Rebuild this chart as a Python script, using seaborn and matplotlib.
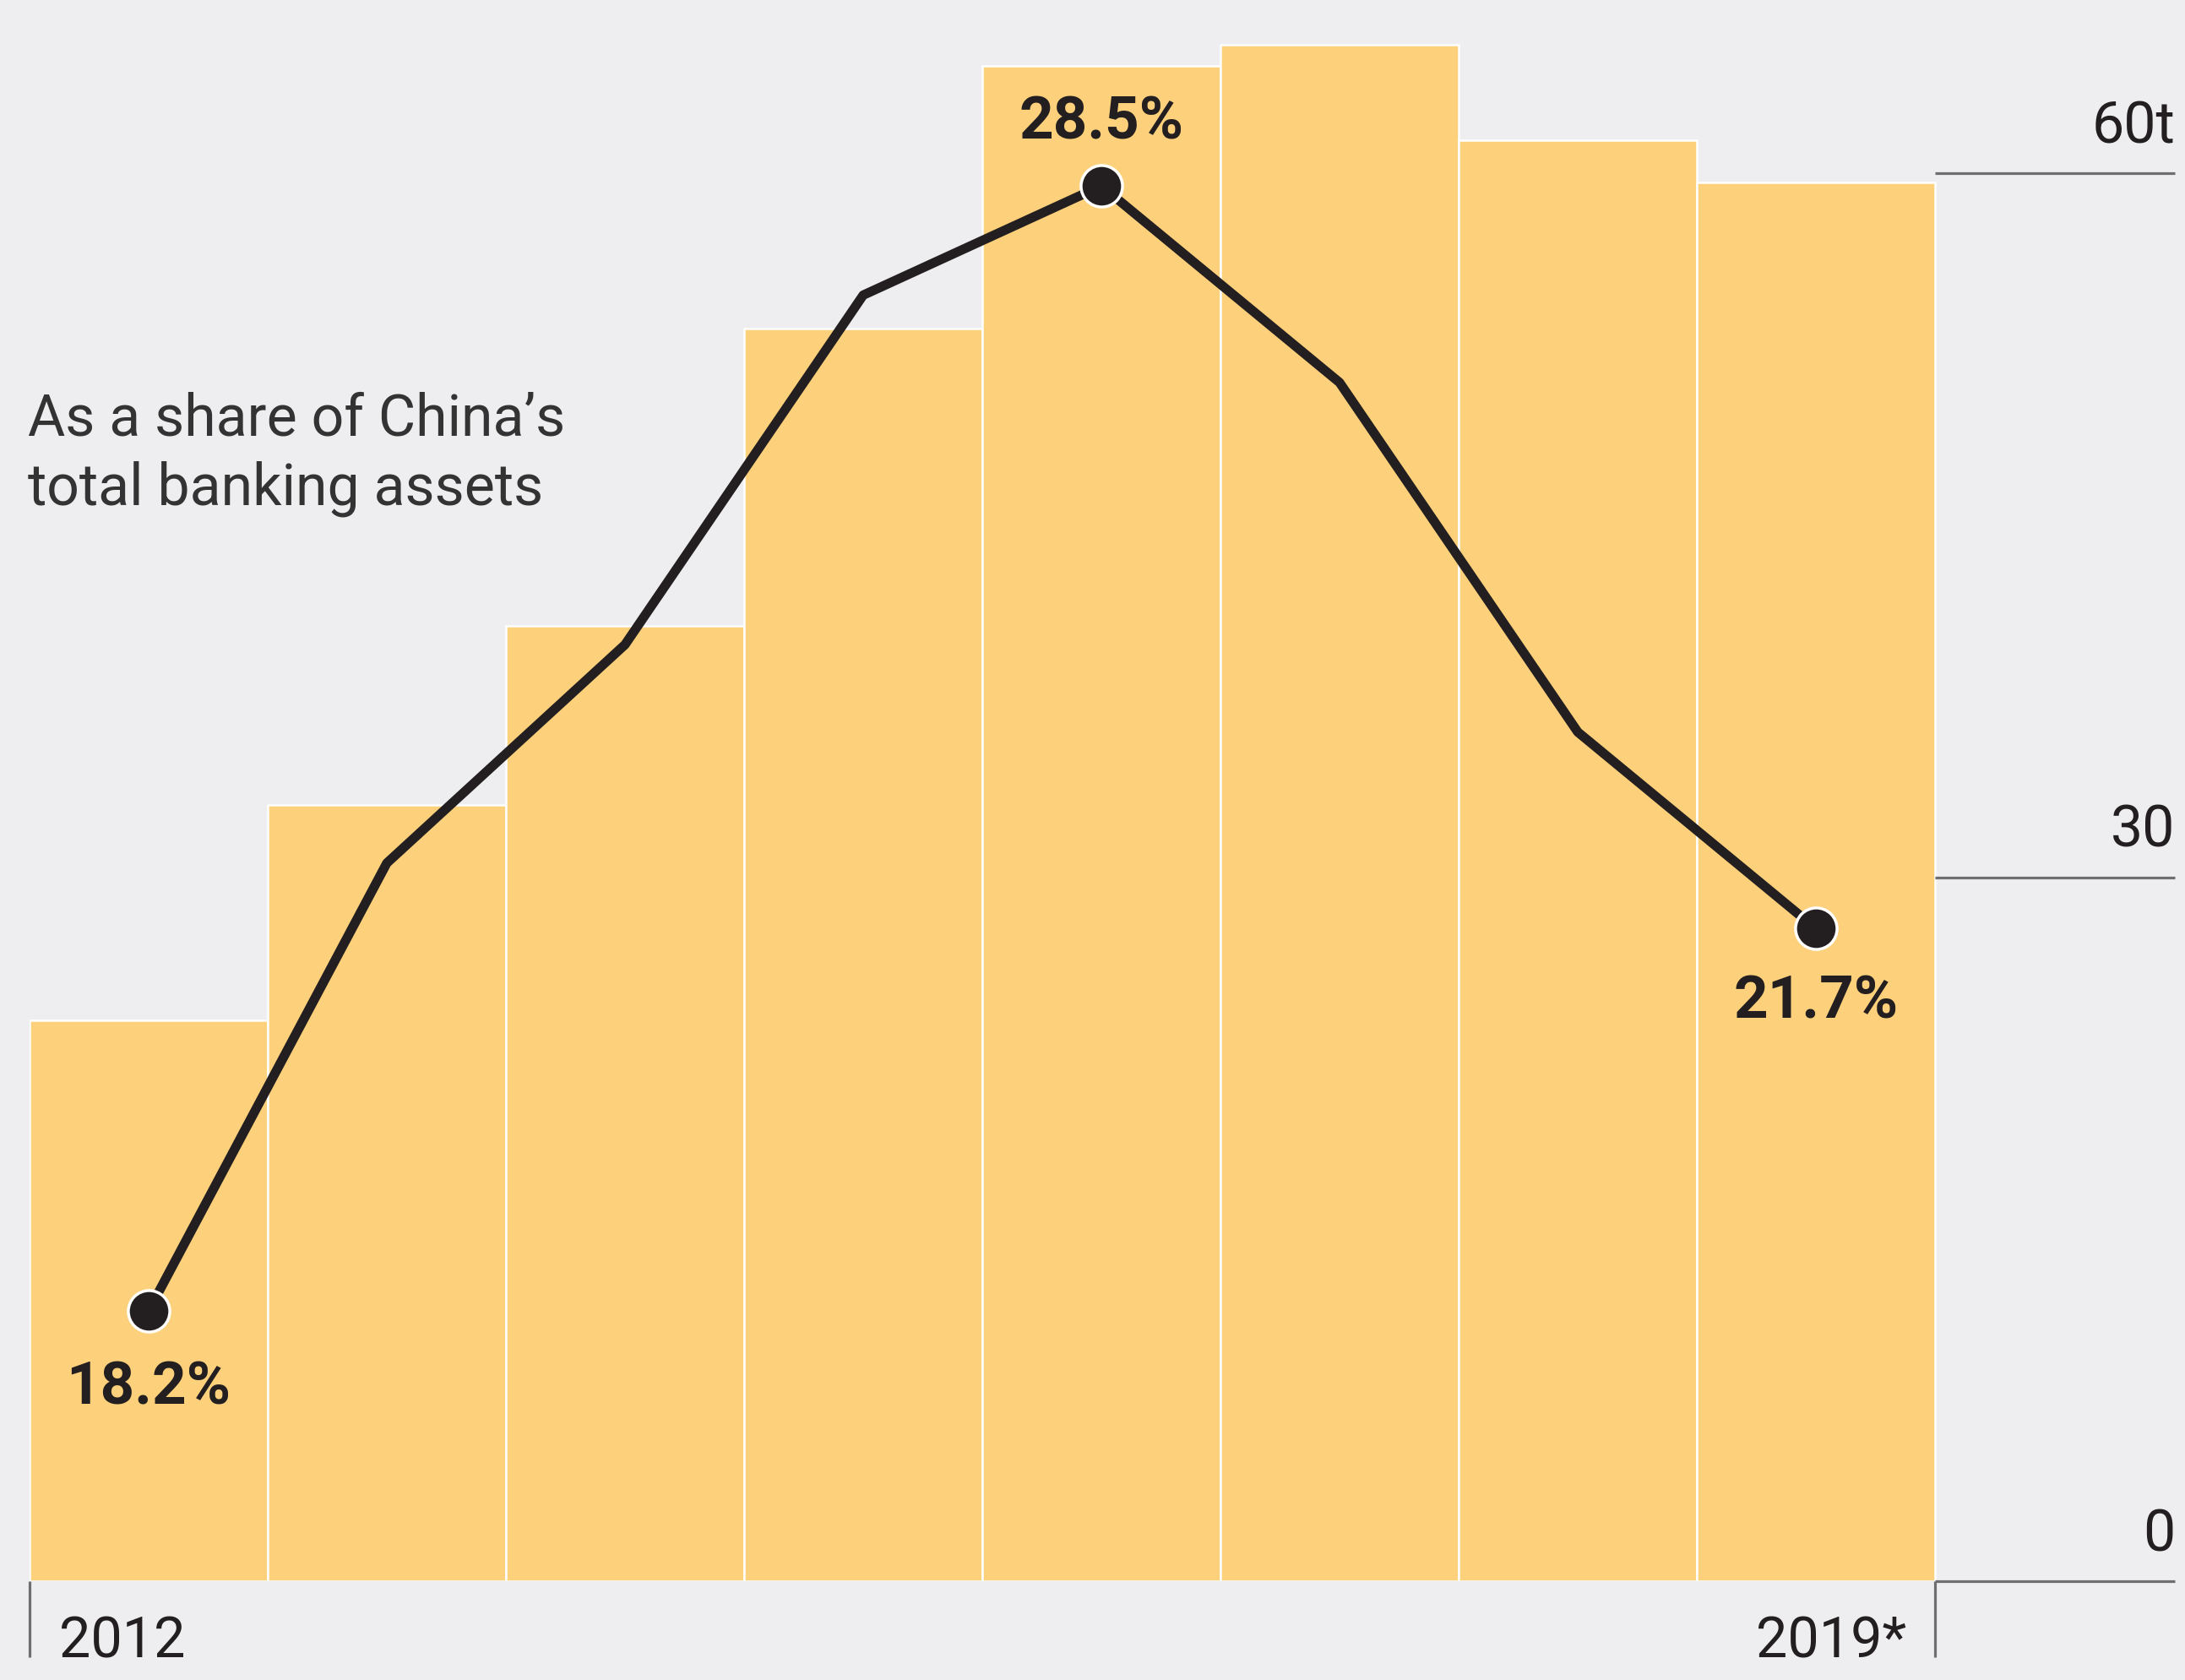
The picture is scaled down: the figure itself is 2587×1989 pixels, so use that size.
import numpy as np
import pandas as pd
import matplotlib
matplotlib.use("Agg")
import matplotlib.pyplot as plt
import seaborn as sns

# Shadow banking assets (trillion yuan) and share of total banking assets (%)
years = ["2012", "2013", "2014", "2015", "2016", "2017", "2018", "2019"]
assets_tn = [23.9, 33.1, 40.7, 53.4, 64.6, 65.5, 61.4, 59.6]
share_pct = [18.2, 22.3, 24.3, 27.5, 28.5, 26.7, 23.5, 21.7]
labelled_idx = [0, 4, 7]
y_ticks = [0, 30, 60]
y_tick_labels = ["0", "30", "60t"]
x_labels = {0: "2012", 7: "2019*"}
note_lines = ["As a share of China\u2019s", "total banking assets"]

BG = "#EEEEF0"
BAR = "#FDD17B"
INK = "#231F20"
RULE = "#6D6E71"

sns.set_theme(style="white")
plt.rcParams["font.family"] = ["Roboto", "DejaVu Sans"]

W, H = 2587, 1990
fig = plt.figure(figsize=(W / 100, H / 100), dpi=100, facecolor=BG)
ax = fig.add_axes([35 / W, (H - 1873) / H, (2575 - 35) / W, 1873 / H])
ax.set_facecolor("none")

df = pd.DataFrame({"year": years, "assets": assets_tn, "share": share_pct})

sns.barplot(data=df, x="year", y="assets", color=BAR, saturation=1,
            width=1.0, edgecolor="white", linewidth=1.8, ax=ax, zorder=1)
ax.set_xlim(-0.5, 8.507)
ax.set_ylim(0, 67.43)
ax.set_xlabel("")
ax.set_ylabel("")
ax.set_xticks([])
ax.set_yticks([])
for s in ax.spines.values():
    s.set_visible(False)

# right-hand scale rules and labels
n = len(years)
ax.hlines(y_ticks, n - 0.5, 8.507, color=RULE, lw=2.3, clip_on=False, zorder=2)
for v, lab in zip(y_ticks, y_tick_labels):
    ax.annotate(lab, xy=(8.507, v), xytext=(0, 26.6), textcoords="offset points",
                ha="right", va="baseline", fontsize=49, color=INK,
                annotation_clip=False)

# baseline end ticks and year labels
ax.vlines([-0.5, n - 0.5], 0, -3.25, color=RULE, lw=2.3, clip_on=False)
ax.annotate(x_labels[0], xy=(-0.5, 0), xytext=(25.5, -64.8),
            textcoords="offset points", ha="left", va="baseline",
            fontsize=48, color=INK, annotation_clip=False)
ax.annotate(x_labels[7], xy=(n - 0.5, 0), xytext=(-24.5, -64.8),
            textcoords="offset points", ha="right", va="baseline",
            fontsize=48, color=INK, annotation_clip=False)

# share line on a twin axis
ax2 = ax.twinx()
ax2.set_facecolor("none")
sns.lineplot(x=np.arange(n), y=share_pct, ax=ax2, color=INK, lw=8.0,
             solid_joinstyle="round", solid_capstyle="round", zorder=3)
ax2.scatter([labelled_idx], [[share_pct[i] for i in labelled_idx]], s=1250,
            color=INK, edgecolor="white", linewidths=2.5, zorder=4)
ax2.set_ylim(15.725, 30.21)
ax2.set_xlim(-0.5, 8.507)
ax2.set_yticks([])
ax2.set_xticks([])
for s in ax2.spines.values():
    s.set_visible(False)

offsets = {0: -79, 4: 41, 7: -76}
for i in labelled_idx:
    ax2.annotate(f"{share_pct[i]:.1f}%", xy=(i, share_pct[i]),
                 xytext=(0, offsets[i]), textcoords="offset points",
                 ha="center", va="baseline", fontsize=51, fontweight="bold",
                 color=INK)

# explanatory note
for k, line in enumerate(note_lines):
    fig.text(33 / W, 1 - (515 + 82 * k) / H, line, ha="left", va="baseline",
             fontsize=49, color="#333333")

fig.savefig("out.png", dpi=100, facecolor=BG)
